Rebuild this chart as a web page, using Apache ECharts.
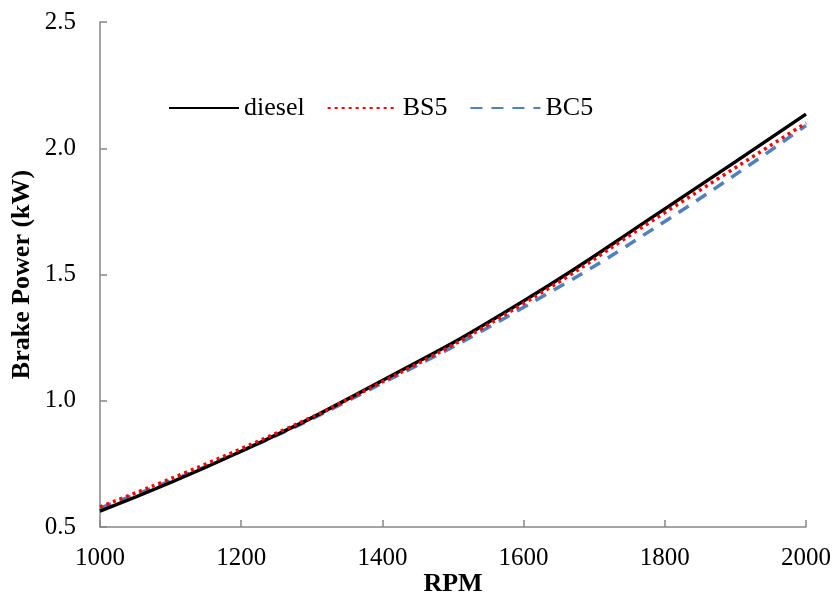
<!DOCTYPE html>
<html>
<head>
<meta charset="utf-8">
<script src="https://cdn.jsdelivr.net/npm/echarts@6/dist/echarts.min.js"></script>
<style>
  html, body { margin: 0; padding: 0; background: #fff; }
  #main { width: 832px; height: 594px; }
</style>
</head>
<body>
<div id="main"></div>
<script>
// engine speed (rpm) and brake power (kW)
var rpm = [1000, 1200, 1400, 1600, 1800, 2000];
var diesel = [0.563, 0.800, 1.080, 1.395, 1.760, 2.135];
var bs5 = [0.580, 0.810, 1.075, 1.385, 1.745, 2.100];
var bc5 = [0.575, 0.800, 1.070, 1.370, 1.710, 2.090];

function pairs(ys) {
  return rpm.map(function (x, i) { return [x, ys[i]]; });
}

var chart = echarts.init(document.getElementById('main'));

var font = 'Liberation Serif';
var axisCommon = {
  axisLine: { lineStyle: { color: '#868686', width: 1.5 } },
  axisTick: { inside: true, length: 7, lineStyle: { color: '#868686', width: 1.5 } },
  splitLine: { show: false },
  nameLocation: 'middle',
  nameMoveOverlap: false,
  nameTextStyle: { color: '#000', fontFamily: font, fontSize: 26, fontWeight: 'bold' }
};

var option = {
  backgroundColor: '#fff',
  animation: false,
  grid: { left: 100, right: 26, top: 22, bottom: 67, outerBoundsMode: 'none', containLabel: false },
  legend: {
    left: 163,
    top: 90,
    itemWidth: 70,
    itemHeight: 14,
    itemGap: 22,
    itemStyle: { opacity: 0 },
    textStyle: { color: '#000', fontFamily: font, fontSize: 26 },
    data: ['diesel', 'BS5', 'BC5']
  },
  xAxis: Object.assign({}, axisCommon, {
    type: 'value',
    min: 1000,
    max: 2000,
    interval: 200,
    name: 'RPM',
    nameGap: 44,
    axisLabel: { color: '#000', fontFamily: font, fontSize: 25, margin: 19,
      formatter: function (v) { return String(v); } }
  }),
  yAxis: Object.assign({}, axisCommon, {
    type: 'value',
    min: 0.5,
    max: 2.5,
    interval: 0.5,
    name: 'Brake Power (kW)',
    nameGap: 65,
    axisLabel: { color: '#000', fontFamily: font, fontSize: 25, margin: 24,
      formatter: function (v) { return v.toFixed(1); } }
  }),
  series: [
    {
      name: 'diesel',
      type: 'line',
      smooth: true,
      symbol: 'none',
      data: pairs(diesel),
      z: 3,
      lineStyle: { color: '#000', width: 3.5 },
      itemStyle: { color: '#000' }
    },
    {
      name: 'BS5',
      type: 'line',
      smooth: true,
      symbol: 'none',
      data: pairs(bs5),
      z: 4,
      lineStyle: { color: '#ff0000', width: 3.5, type: [3, 4], cap: 'butt' },
      itemStyle: { color: '#ff0000' }
    },
    {
      name: 'BC5',
      type: 'line',
      smooth: true,
      symbol: 'none',
      data: pairs(bc5),
      z: 2,
      lineStyle: { color: '#4f81bd', width: 3.5, type: [12, 9] },
      itemStyle: { color: '#4f81bd' }
    }
  ]
};

chart.setOption(option);
</script>
</body>
</html>
